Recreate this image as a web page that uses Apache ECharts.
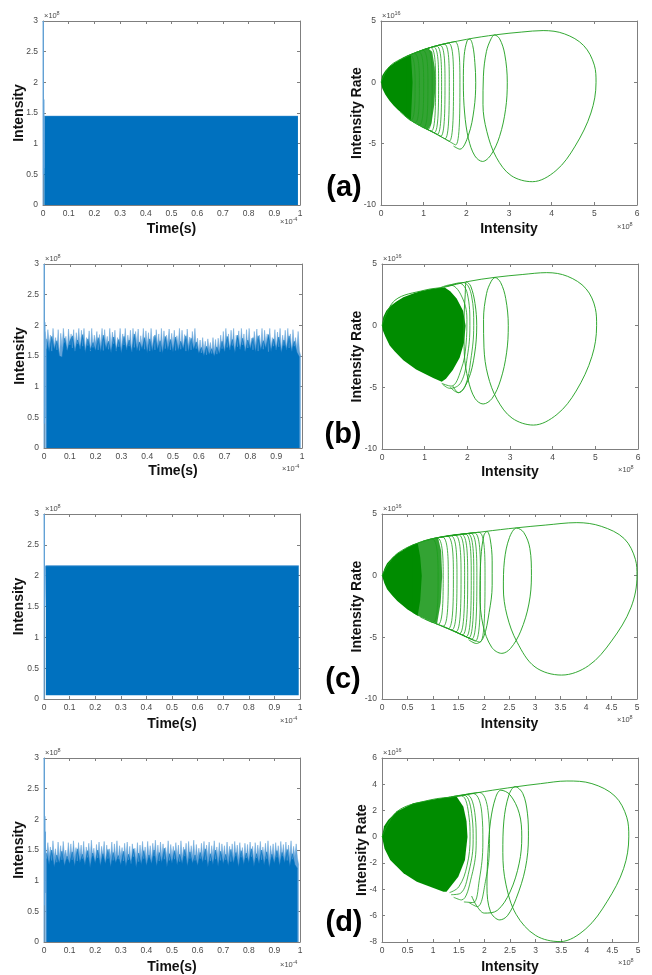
<!DOCTYPE html>
<html><head><meta charset="utf-8">
<script src="https://cdn.jsdelivr.net/npm/echarts@6/dist/echarts.min.js"></script>
<style>html,body{margin:0;padding:0;background:#fff}#c{width:652px;height:975px}</style>
</head><body><div id="c"></div>
<script>
// ================= DATA =================
// Left panels: Intensity (x1e8) vs Time (x1e-4 s)
// (a)
const aSpikeT = [0.0003, 0.001, 0.0018, 0.003, 0.0042, 0.006];
const aSpikeV = [0, 3.0, 0.5, 1.72, 0.6, 1.45];
const aEnvT = [0.005, 0.992];
const aEnvV = [1.45, 1.45];
// (b) light spike tops, sampled every 0.005 from 0.005
const bHiStart = 0.005, bHiStep = 0.005;
const bHi = [
1.90,1.62,1.93,1.70,1.84,1.58,1.95,1.66,1.80,1.60,1.93,1.50,1.87,1.64,1.95,1.72,1.82,1.60,1.94,1.68,
1.86,1.63,1.93,1.58,1.88,1.70,1.95,1.62,1.92,1.66,1.95,1.60,1.80,1.67,1.91,1.58,1.95,1.64,1.84,1.70,
1.90,1.60,1.85,1.66,1.95,1.59,1.93,1.68,1.82,1.61,1.95,1.64,1.89,1.70,1.92,1.58,1.80,1.65,1.95,1.62,
1.86,1.68,1.95,1.60,1.84,1.66,1.92,1.57,1.95,1.64,1.90,1.69,1.94,1.59,1.83,1.66,1.95,1.61,1.91,1.67,
1.88,1.58,1.95,1.65,1.82,1.60,1.93,1.68,1.86,1.57,1.95,1.64,1.91,1.62,1.84,1.70,1.94,1.60,1.87,1.66,
1.92,1.59,1.83,1.67,1.95,1.61,1.92,1.64,1.85,1.58,1.94,1.66,1.81,1.60,1.90,1.68,1.95,1.62,1.79,1.57,
1.76,1.55,1.80,1.58,1.74,1.52,1.78,1.60,1.72,1.54,1.80,1.57,1.77,1.53,1.79,1.60,1.84,1.62,1.90,1.58,
1.95,1.64,1.86,1.60,1.92,1.67,1.95,1.59,1.84,1.65,1.91,1.61,1.95,1.68,1.86,1.58,1.93,1.63,1.95,1.66,
1.79,1.60,1.90,1.66,1.94,1.58,1.84,1.64,1.95,1.61,1.92,1.69,1.86,1.57,1.95,1.63,1.80,1.66,1.93,1.60,
1.89,1.65,1.95,1.59,1.84,1.67,1.92,1.60,1.95,1.63,1.86,1.58,1.93,1.66,1.80,1.62,1.90,1.58,1.50];
// (b) dark body tops, sampled every 0.01 from 0.01
const bLoStart = 0.01, bLoStep = 0.01;
const bLo = [
1.78,1.56,1.82,1.60,1.75,1.50,1.48,1.79,1.58,1.74,
1.83,1.57,1.76,1.62,1.85,1.55,1.78,1.60,1.72,1.58,
1.80,1.56,1.84,1.61,1.74,1.55,1.81,1.59,1.77,1.54,
1.82,1.60,1.76,1.56,1.86,1.58,1.73,1.61,1.80,1.55,
1.78,1.57,1.84,1.60,1.75,1.54,1.82,1.59,1.77,1.56,
1.81,1.58,1.74,1.61,1.83,1.56,1.79,1.60,1.73,1.54,
1.64,1.50,1.66,1.52,1.62,1.49,1.65,1.53,1.74,1.56,
1.82,1.59,1.77,1.55,1.84,1.60,1.79,1.57,1.76,1.61,
1.80,1.56,1.83,1.59,1.75,1.62,1.85,1.57,1.78,1.60,
1.81,1.55,1.76,1.60,1.83,1.58,1.74,1.56,1.48];
const bSpikeT = [0.0003, 0.001, 0.0018, 0.003, 0.0042];
const bSpikeV = [0, 3.0, 0.4, 2.05, 0.5];
// (c)
const cSpikeT = [0.0003, 0.001, 0.0025, 0.004, 0.006];
const cSpikeV = [0, 3.0, 1.5, 1.7, 2.16];
const cBandT = [0.007, 0.995];
const cBandLo = [0.06, 0.06];
const cBandHi = [2.16, 2.16];
// (d)
const dHiStart = 0.005, dHiStep = 0.005;
const dHi = [
1.58,1.36,1.62,1.40,1.55,1.33,1.65,1.38,1.52,1.30,1.63,1.37,1.57,1.34,1.64,1.41,1.50,1.35,1.62,1.38,
1.60,1.34,1.65,1.39,1.54,1.32,1.62,1.40,1.58,1.36,1.64,1.33,1.55,1.38,1.61,1.35,1.66,1.40,1.53,1.32,
1.59,1.37,1.63,1.34,1.56,1.41,1.64,1.30,1.58,1.36,1.52,1.39,1.63,1.33,1.60,1.38,1.65,1.35,1.57,1.40,
1.54,1.32,1.61,1.37,1.63,1.34,1.56,1.28,1.60,1.39,1.53,1.35,1.62,1.31,1.58,1.38,1.64,1.36,1.55,1.33,
1.64,1.38,1.57,1.34,1.61,1.40,1.66,1.36,1.58,1.32,1.63,1.39,1.60,1.35,1.54,1.37,1.65,1.33,1.59,1.40,
1.56,1.35,1.62,1.38,1.58,1.31,1.65,1.37,1.55,1.40,1.61,1.34,1.64,1.36,1.57,1.39,1.66,1.33,1.59,1.38,
1.53,1.36,1.61,1.39,1.64,1.34,1.58,1.38,1.63,1.32,1.57,1.40,1.65,1.35,1.55,1.37,1.62,1.33,1.60,1.39,
1.57,1.34,1.63,1.38,1.56,1.31,1.60,1.36,1.64,1.40,1.58,1.35,1.62,1.38,1.54,1.33,1.61,1.37,1.59,1.35,
1.63,1.39,1.56,1.32,1.62,1.37,1.58,1.40,1.64,1.34,1.55,1.38,1.61,1.36,1.65,1.33,1.57,1.39,1.60,1.35,
1.62,1.38,1.57,1.34,1.64,1.40,1.59,1.36,1.63,1.33,1.58,1.38,1.65,1.35,1.56,1.39,1.60,1.37,1.25];
const dLoStart = 0.01, dLoStep = 0.01;
const dLo = [
1.45,1.26,1.50,1.22,1.42,1.28,1.48,1.24,1.40,1.27,
1.47,1.23,1.52,1.29,1.43,1.25,1.49,1.21,1.45,1.28,
1.50,1.24,1.44,1.27,1.51,1.22,1.46,1.29,1.41,1.25,
1.48,1.23,1.43,1.28,1.52,1.21,1.45,1.26,1.49,1.24,
1.42,1.27,1.50,1.23,1.46,1.29,1.53,1.22,1.44,1.28,
1.49,1.25,1.43,1.27,1.51,1.23,1.47,1.28,1.42,1.24,
1.46,1.29,1.52,1.22,1.44,1.26,1.50,1.23,1.48,1.27,
1.43,1.24,1.51,1.28,1.46,1.22,1.49,1.26,1.45,1.29,
1.52,1.23,1.44,1.27,1.50,1.25,1.47,1.21,1.43,1.28,
1.49,1.24,1.46,1.29,1.51,1.23,1.44,1.26,1.20];
const dSpikeT = [0.0003, 0.001, 0.002, 0.003, 0.0045, 0.006];
const dSpikeV = [0, 3.0, 0.6, 2.05, 0.8, 1.8];

// Right panels: Intensity Rate (x1e16) vs Intensity (x1e8)
// (a)
const aBlob = [[0,0],[0.03,0.55],[0.1,0.95],[0.2,1.3],[0.3,1.55],[0.4,1.75],[0.5,1.95],[0.6,2.1],[0.7,2.25],[0.72,1.2],[0.74,0],[0.72,-1.6],[0.7,-3.1],[0.6,-2.85],[0.5,-2.55],[0.4,-2.25],[0.3,-1.9],[0.2,-1.5],[0.1,-1.0],[0.03,-0.5]];
const aDense = [[0.6,2.1],[0.8,2.4],[1.0,2.65],[1.1,2.77],[1.2,2.5],[1.26,1.2],[1.28,0],[1.25,-1.8],[1.18,-3.4],[1.1,-3.85],[0.9,-3.5],[0.7,-3.1],[0.6,-2.85]];
const aLoops = [
 [[0.4,1.75],[0.68,2.22],[0.8,0],[0.7,-3.1],[0.45,-2.4]],
 [[0.5,1.95],[0.78,2.37],[0.9,0],[0.8,-3.3],[0.55,-2.7]],
 [[0.6,2.1],[0.88,2.5],[1.0,0],[0.9,-3.5],[0.65,-3.0]],
 [[0.7,2.25],[0.98,2.62],[1.1,0],[1.0,-3.7],[0.75,-3.2]],
 [[0.8,2.4],[1.08,2.75],[1.2,0],[1.1,-3.85],[0.85,-3.4]],
 [[0.88,2.5],[1.16,2.84],[1.28,0],[1.18,-3.97],[0.93,-3.56]],
 [[0.95,2.58],[1.23,2.9],[1.35,0],[1.25,-4.1],[1.0,-3.7]],
 [[1.02,2.67],[1.3,2.97],[1.42,0],[1.32,-4.24],[1.07,-3.8]],
 [[1.1,2.77],[1.38,3.04],[1.5,0],[1.4,-4.4],[1.15,-3.92]],
 [[1.2,2.88],[1.48,3.13],[1.6,0],[1.5,-4.6],[1.25,-4.1]],
 [[1.3,2.97],[1.58,3.2],[1.7,0],[1.6,-4.8],[1.35,-4.3]],
 [[1.45,3.1],[1.73,3.32],[1.85,0],[1.75,-5.1],[1.5,-4.6]]
];
const aOuter = [[0,0],[0.2,1.3],[0.6,2.1],[1.2,2.88],[2.0,3.5],[2.7,3.88],[3.3,4.1],[3.8,4.22],[4.3,3.95],[4.75,3.0],[5.0,1.4],[5.04,0],[4.92,-2.5],[4.55,-5.2],[4.1,-7.2],[3.55,-8.1],[3.05,-7.6],[2.7,-6.1],[2.48,-4.0],[2.39,-1.8],[2.4,0.5],[2.47,2.5],[2.58,3.55],[2.66,3.86],[2.78,3.55],[2.9,2.3],[2.96,0],[2.92,-2.2],[2.78,-4.4],[2.58,-5.9],[2.38,-6.45],[2.2,-6.0],[2.05,-4.6],[1.96,-2.5],[1.93,0],[1.95,2.2],[2.02,3.4],[2.08,3.52],[2.15,3.0],[2.2,1.6],[2.22,0],[2.18,-2.2],[2.05,-4.3],[1.85,-5.45],[1.7,-5.2]];
// (b)
const bBlob = [[0,0],[0.03,0.7],[0.1,1.2],[0.2,1.6],[0.34,1.95],[0.5,2.3],[0.73,2.6],[0.9,2.8],[1.12,2.95],[1.3,3.05],[1.47,3.1],[1.6,2.8],[1.75,2.2],[1.9,1.2],[1.96,0],[1.92,-1.4],[1.82,-2.6],[1.66,-3.6],[1.5,-4.3],[1.4,-4.55],[1.2,-4.25],[1.0,-3.9],[0.8,-3.55],[0.5,-2.8],[0.3,-2.1],[0.18,-1.6],[0.08,-0.9],[0.02,-0.4]];
const bLoops = [
 [[1.35,3.05],[1.59,3.3],[1.85,2.5],[1.99,0.5],[1.97,-1.5],[1.85,-3.6],[1.62,-4.9],[1.4,-4.68]],
 [[1.45,3.12],[1.8,3.45],[2.0,2.6],[2.06,0],[2.0,-2.5],[1.85,-4.6],[1.59,-5.08],[1.42,-4.75]],
 [[1.55,3.2],[1.9,3.5],[2.1,2.4],[2.15,0],[2.08,-2.8],[1.95,-4.9],[1.79,-5.43],[1.6,-5.0]]
];
const bOuter = [[0,0],[0.3,2.05],[1.0,2.88],[1.5,3.15],[2.0,3.57],[2.65,3.92],[3.3,4.15],[3.86,4.3],[4.35,4.0],[4.78,3.0],[5.0,1.4],[5.03,0],[4.92,-2.5],[4.55,-5.3],[4.1,-7.2],[3.55,-8.06],[3.05,-7.5],[2.7,-6.0],[2.48,-4.0],[2.39,-1.8],[2.38,0.5],[2.45,2.6],[2.56,3.6],[2.65,3.9],[2.78,3.5],[2.9,2.2],[2.96,0],[2.92,-2.2],[2.78,-4.4],[2.58,-5.9],[2.37,-6.35],[2.18,-5.9],[2.02,-4.4],[1.93,-2.3],[1.92,0.2],[1.95,2.5],[1.98,3.57],[2.08,3.2],[2.18,1.8],[2.22,0],[2.17,-2.3],[2.02,-4.4],[1.79,-5.43],[1.66,-4.9]];
// (c)
const cBlob = [[0,0],[0.05,0.6],[0.1,1.0],[0.2,1.45],[0.3,1.8],[0.4,2.05],[0.5,2.3],[0.6,2.5],[0.7,2.65],[0.75,1.5],[0.78,0],[0.75,-2.0],[0.7,-3.25],[0.5,-2.75],[0.3,-2.05],[0.2,-1.6],[0.1,-1.1],[0.05,-0.65]];
const cDense = [[0.6,2.5],[0.8,2.8],[1.0,3.0],[1.1,3.07],[1.16,2.0],[1.18,0],[1.15,-2.2],[1.08,-3.9],[0.9,-3.6],[0.7,-3.25],[0.6,-3.0]];
const cLoops = [
 [[0.7,2.65],[0.98,2.98],[1.1,0],[1.0,-3.8],[0.75,-3.35]],
 [[0.8,2.8],[1.08,3.07],[1.2,0],[1.1,-3.95],[0.85,-3.52]],
 [[0.9,2.9],[1.18,3.14],[1.3,0],[1.2,-4.1],[0.95,-3.7]],
 [[1.0,3.0],[1.28,3.2],[1.4,0],[1.3,-4.3],[1.05,-3.87]],
 [[1.07,3.05],[1.35,3.24],[1.47,0],[1.37,-4.4],[1.12,-3.98]],
 [[1.15,3.1],[1.43,3.29],[1.55,0],[1.45,-4.55],[1.2,-4.1]],
 [[1.22,3.16],[1.5,3.32],[1.62,0],[1.52,-4.7],[1.27,-4.24]],
 [[1.28,3.2],[1.56,3.35],[1.68,0],[1.58,-4.8],[1.33,-4.35]],
 [[1.35,3.24],[1.63,3.39],[1.75,0],[1.65,-4.95],[1.4,-4.45]],
 [[1.4,3.27],[1.68,3.41],[1.8,0],[1.7,-5.05],[1.45,-4.55]],
 [[1.46,3.3],[1.74,3.44],[1.86,0],[1.76,-5.15],[1.51,-4.67]],
 [[1.53,3.33],[1.81,3.48],[1.93,0],[1.83,-5.3],[1.58,-4.8]],
 [[1.62,3.38],[1.9,3.52],[2.02,0],[1.92,-5.4],[1.67,-5.0]]
];
const cOuter = [[0,0],[0.3,1.8],[1.0,3.0],[2.0,3.57],[2.64,3.88],[3.2,4.1],[3.82,4.3],[4.3,4.0],[4.75,3.0],[4.97,1.3],[5.0,0],[4.88,-2.6],[4.5,-5.3],[4.05,-7.3],[3.52,-8.06],[3.0,-7.4],[2.65,-5.4],[2.45,-3.2],[2.38,-1.0],[2.4,1.2],[2.5,3.1],[2.64,3.86],[2.78,3.5],[2.9,2.2],[2.93,0],[2.88,-2.3],[2.72,-4.5],[2.52,-5.9],[2.35,-6.3],[2.15,-5.8],[1.98,-4.0],[1.92,-1.5],[1.94,1.5],[2.0,3.3],[2.06,3.58],[2.12,3.0],[2.16,1.2],[2.16,-0.8],[2.1,-3.0],[1.99,-5.0],[1.85,-5.5],[1.7,-5.2]];
// (d)
const dBlob = [[0,0],[0.04,0.8],[0.12,1.29],[0.29,1.92],[0.61,2.56],[0.94,2.81],[1.26,3.01],[1.46,3.06],[1.59,2.3],[1.65,1.2],[1.67,0],[1.62,-1.76],[1.49,-3.03],[1.26,-4.17],[1.2,-4.17],[0.94,-3.79],[0.68,-3.41],[0.42,-2.77],[0.16,-1.76],[0.05,-0.9]];
const dLoops = [
 [[1.3,3.02],[1.55,3.12],[1.7,1.5],[1.72,0],[1.66,-2.2],[1.5,-3.8],[1.32,-4.24]],
 [[1.35,3.05],[1.6,3.17],[1.76,1.5],[1.78,-0.2],[1.7,-2.6],[1.53,-4.3],[1.35,-4.4]],
 [[1.4,3.08],[1.65,3.22],[1.82,1.6],[1.84,-0.3],[1.75,-3.0],[1.55,-4.8],[1.4,-4.6]],
 [[1.5,3.12],[1.78,3.3],[1.95,1.8],[1.97,-0.4],[1.9,-3.3],[1.78,-5.0],[1.6,-4.95]],
 [[1.6,3.2],[1.9,3.38],[2.07,2.0],[2.1,-0.5],[2.02,-3.4],[1.86,-5.31],[1.7,-5.0]]
];
const dOuter = [[0,0],[0.3,1.95],[0.94,2.81],[1.46,3.08],[2.0,3.45],[2.6,3.8],[3.1,4.05],[3.61,4.25],[4.1,4.05],[4.55,3.1],[4.78,1.5],[4.82,0],[4.72,-2.4],[4.4,-4.9],[3.98,-7.0],[3.48,-7.97],[3.0,-7.5],[2.62,-5.9],[2.42,-3.6],[2.36,-1.2],[2.38,1.2],[2.48,3.2],[2.6,3.82],[2.75,3.3],[2.84,1.8],[2.86,0],[2.8,-2.4],[2.62,-4.7],[2.45,-6.0],[2.3,-6.32],[2.12,-5.7],[2.05,-3.8],[2.07,-1.2],[2.12,1.2],[2.22,3.0],[2.32,3.55],[2.5,3.2],[2.68,1.8],[2.73,0],[2.68,-2.0],[2.5,-4.2],[2.25,-5.6],[2.0,-5.8],[1.86,-5.31],[1.75,-4.5]];

// ================= RENDER =================
const FONT = '"Liberation Sans", Arial, Helvetica, sans-serif';
const AX = '#7f7f7f', LBL = '#4a4a4a', TITLE = '#111';
const DARK = '#0071bf', LIGHT = '#62a3d9', GREEN_FILL = '#008c00', GREEN_LINE = '#1c9e1c';
const grids = [], xAxes = [], yAxes = [], series = [], graphics = [];

function addPanel(p) {
  const gi = grids.length;
  grids.push({left: p.l, top: p.t, width: p.w, height: p.h, show: false});
  const base = () => ({
    type: 'value', gridIndex: gi, splitLine: {show: false}, scale: false,
    axisLine: {show: true, onZero: false, lineStyle: {color: AX, width: 1}},
    axisTick: {show: true, inside: true, length: 3, lineStyle: {color: AX, width: 1}}
  });
  const xi = xAxes.length, yi = yAxes.length;
  xAxes.push(Object.assign(base(), {position: 'bottom', min: p.xMin, max: p.xMax, interval: p.xInt,
    axisLabel: {fontSize: 8.5, color: LBL, margin: 4, fontFamily: FONT},
    name: p.xName, nameLocation: 'middle', nameGap: p.xGap, nameMoveOverlap: false,
    nameTextStyle: {fontSize: 14, fontWeight: 'bold', color: TITLE, fontFamily: FONT}}));
  xAxes.push(Object.assign(base(), {position: 'top', min: p.xMin, max: p.xMax, interval: p.xInt, axisLabel: {show: false}}));
  yAxes.push(Object.assign(base(), {position: 'left', min: p.yMin, max: p.yMax, interval: p.yInt,
    axisLabel: {fontSize: 8.5, color: LBL, margin: 5, fontFamily: FONT},
    name: p.yName, nameLocation: 'middle', nameGap: p.yGap, nameMoveOverlap: false,
    nameTextStyle: {fontSize: 14, fontWeight: 'bold', color: TITLE, fontFamily: FONT}}));
  yAxes.push(Object.assign(base(), {position: 'right', min: p.yMin, max: p.yMax, interval: p.yInt, axisLabel: {show: false}}));
  expo(p.l + 1, p.t - 5, p.topExp);
  expo(p.l + p.w - 20, p.t + p.h + p.botOff, p.botExp);
  return {xi, yi};
}
function expo(x, y, sup) {
  graphics.push({type: 'text', x: x, y: y, style: {text: '\u00d710', font: '7.5px ' + FONT, fill: LBL, verticalAlign: 'middle', textVerticalAlign: 'middle'}});
  graphics.push({type: 'text', x: x + 12.5, y: y - 3, style: {text: sup, font: '5.5px ' + FONT, fill: LBL, verticalAlign: 'middle', textVerticalAlign: 'middle'}});
}
function pairs(ts, vs) { return ts.map((t, i) => [t, vs[i]]); }
function stepPairs(start, step, vs) { return vs.map((v, i) => [+(start + i * step).toFixed(4), v]); }
function areaSeries(ax, data, color, lineColor) {
  series.push({type: 'line', xAxisIndex: ax.xi, yAxisIndex: ax.yi, data: data, symbol: 'none', showSymbol: false,
    lineStyle: {color: lineColor || color, width: 0.5}, areaStyle: {color: color, opacity: 1}, z: 2, animation: false, silent: true});
}
function lineSeries(ax, data, color, width, smooth) {
  series.push({type: 'line', xAxisIndex: ax.xi, yAxisIndex: ax.yi, data: data, symbol: 'none', showSymbol: false,
    smooth: smooth || 0, lineStyle: {color: color, width: width}, z: 3, animation: false, silent: true});
}
function polySeries(ax, pts, color, op) {
  series.push({type: 'custom', xAxisIndex: ax.xi, yAxisIndex: ax.yi, data: pts, z: 2, silent: true, animation: false,
    renderItem: function (params, api) {
      if (params.dataIndex !== 0) return null;
      return {type: 'polygon', shape: {points: pts.map(p => api.coord(p))}, style: {fill: color, opacity: op}};
    }});
}

const leftCfg = {xMin: 0, xMax: 1, xInt: 0.1, yMin: 0, yMax: 3, yInt: 0.5, xName: 'Time(s)', yName: 'Intensity', topExp: '8', botExp: '-4'};
const rightCfg = {xMin: 0, xMax: 6, xInt: 1, yMin: -10, yMax: 5, yInt: 5, xName: 'Intensity', yName: 'Intensity Rate', topExp: '16', botExp: '8'};

// ---- (a)
let ax = addPanel(Object.assign({}, leftCfg, {l: 43, t: 21, w: 257, h: 184, xGap: 17, yGap: 17, botOff: 17}));
areaSeries(ax, pairs(aEnvT, aEnvV), DARK, '#3f8fd0');
lineSeries(ax, pairs(aSpikeT, aSpikeV), LIGHT, 1);
ax = addPanel(Object.assign({}, rightCfg, {l: 381, t: 21, w: 256, h: 184, xGap: 17, yGap: 16.5, botOff: 22}));
polySeries(ax, aBlob, GREEN_FILL, 1);
polySeries(ax, aDense, GREEN_FILL, 0.8);
aLoops.forEach(lp => lineSeries(ax, lp, GREEN_LINE, 0.8, 0.4));
lineSeries(ax, aOuter, GREEN_LINE, 0.9, 0.35);

// ---- (b)
ax = addPanel(Object.assign({}, leftCfg, {l: 44, t: 264, w: 258, h: 184, xGap: 16, yGap: 17, botOff: 21}));
areaSeries(ax, stepPairs(bHiStart, bHiStep, bHi), LIGHT);
areaSeries(ax, stepPairs(bLoStart, bLoStep, bLo), DARK);
lineSeries(ax, pairs(bSpikeT, bSpikeV), LIGHT, 1);
ax = addPanel(Object.assign({}, rightCfg, {l: 382, t: 264, w: 256, h: 185, xGap: 16, yGap: 17.5, botOff: 21}));
polySeries(ax, bBlob, GREEN_FILL, 1);
bLoops.forEach(lp => lineSeries(ax, lp, GREEN_LINE, 0.8, 0.4));
lineSeries(ax, bOuter, GREEN_LINE, 0.9, 0.35);

// ---- (c)
ax = addPanel(Object.assign({}, leftCfg, {l: 44, t: 514, w: 256, h: 185, xGap: 18, yGap: 18, botOff: 22}));
polySeries(ax, [[cBandT[0], cBandLo[0]], [cBandT[0], cBandHi[0]], [cBandT[1], cBandHi[1]], [cBandT[1], cBandLo[1]]], DARK, 1);
lineSeries(ax, pairs(cBandT, cBandHi), '#3f8fd0', 0.8);
lineSeries(ax, pairs(cSpikeT, cSpikeV), LIGHT, 1);
ax = addPanel(Object.assign({}, rightCfg, {xMax: 5, xInt: 0.5, l: 382, t: 514, w: 255, h: 185, xGap: 18, yGap: 17.5, botOff: 21}));
polySeries(ax, cBlob, GREEN_FILL, 1);
polySeries(ax, cDense, GREEN_FILL, 0.8);
cLoops.forEach(lp => lineSeries(ax, lp, GREEN_LINE, 0.8, 0.4));
lineSeries(ax, cOuter, GREEN_LINE, 0.9, 0.35);

// ---- (d)
ax = addPanel(Object.assign({}, leftCfg, {l: 44, t: 758, w: 256, h: 184, xGap: 18, yGap: 18, botOff: 23}));
areaSeries(ax, stepPairs(dHiStart, dHiStep, dHi), LIGHT);
areaSeries(ax, stepPairs(dLoStart, dLoStep, dLo), DARK);
lineSeries(ax, pairs(dSpikeT, dSpikeV), LIGHT, 1);
ax = addPanel(Object.assign({}, rightCfg, {xMax: 5, xInt: 0.5, yMin: -8, yMax: 6, yInt: 2, l: 382, t: 758, w: 256, h: 184, xGap: 18, yGap: 12.5, botOff: 21}));
polySeries(ax, dBlob, GREEN_FILL, 1);
dLoops.forEach(lp => lineSeries(ax, lp, GREEN_LINE, 0.8, 0.4));
lineSeries(ax, dOuter, GREEN_LINE, 0.9, 0.35);

// panel letters
[['(a)', 344, 188], ['(b)', 343, 435], ['(c)', 343, 680], ['(d)', 344, 923]].forEach(([t, x, y]) => {
  graphics.push({type: 'text', x: x, y: y, style: {text: t, font: 'bold 29px ' + FONT, fill: '#000',
    align: 'center', verticalAlign: 'middle', textAlign: 'center', textVerticalAlign: 'middle'}});
});

const chart = echarts.init(document.getElementById('c'), null, {renderer: 'canvas'});
chart.setOption({
  animation: false, backgroundColor: '#fff',
  grid: grids, xAxis: xAxes, yAxis: yAxes, series: series, graphic: graphics
});
</script></body></html>
